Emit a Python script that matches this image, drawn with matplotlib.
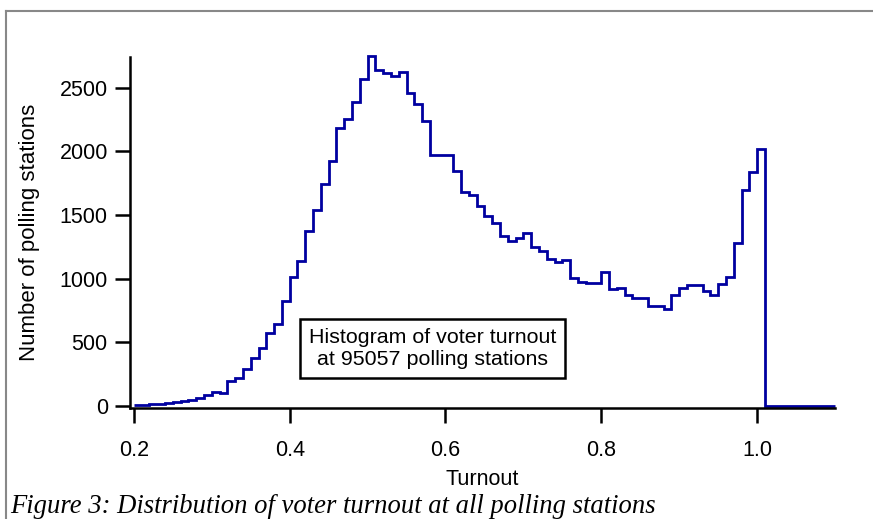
import numpy as np
import matplotlib
matplotlib.use("Agg")
import matplotlib.pyplot as plt
from matplotlib.lines import Line2D

plt.rcParams['font.family'] = ['Liberation Sans', 'DejaVu Sans']

# bin edges of the turnout histogram (width 0.01)
edges = np.round(np.arange(0.20, 1.1001, 0.01), 2)

# number of polling stations per bin
counts = [6, 10, 13, 16, 23, 34, 41, 49, 60, 88,
          112, 104, 198, 224, 294, 380, 453, 576, 648, 825,
          1013, 1135, 1375, 1539, 1740, 1925, 2183, 2250, 2385, 2565,
          2747, 2638, 2612, 2591, 2622, 2458, 2375, 2241, 1968, 1968,
          1970, 1842, 1681, 1656, 1572, 1492, 1435, 1336, 1299, 1318,
          1357, 1252, 1219, 1156, 1128, 1146, 1005, 974, 963, 965,
          1052, 916, 925, 875, 849, 852, 789, 784, 763, 870,
          927, 953, 950, 901, 875, 958, 1010, 1279, 1700, 1838,
          2021, 0, 0, 0, 0, 0, 0, 0, 0, 0]

xticks = [0.2, 0.4, 0.6, 0.8, 1.0]
yticks = [0, 500, 1000, 1500, 2000, 2500]
n_stations = 95057

fig = plt.figure(figsize=(8.73, 5.19), dpi=100)
ax = fig.add_axes([130/873, 1 - 408/519, 705/873, 351/519])

ax.stairs(counts, edges, baseline=None, color='#0000a0', lw=2.0, clip_on=False)

ax.set_xlim(0.195, 1.1)
ax.set_ylim(-15, 2740)
ax.set_xticks(xticks)
ax.set_xticklabels([f"{t:.1f}" for t in xticks])
ax.set_yticks(yticks)

for s in ['top', 'right']:
    ax.spines[s].set_visible(False)
for s in ['left', 'bottom']:
    ax.spines[s].set_linewidth(1.8)
ax.tick_params(direction='out', length=11, width=1.8, labelsize=15.5)
ax.tick_params(axis='x', pad=12)
ax.tick_params(axis='y', pad=5)

ax.set_xlabel("Turnout", fontsize=15.5, labelpad=6)
ax.set_ylabel("Number of polling stations", fontsize=16, labelpad=14)

ax.text(0.583, 452, f"Histogram of voter turnout\nat {n_stations} polling stations",
        ha='center', va='center', fontsize=15.4, linespacing=1.22,
        bbox=dict(boxstyle='square,pad=0.42', fc='white', ec='black', lw=1.8))

# page frame
fig.add_artist(Line2D([5.5/873, 1], [1 - 10.5/519, 1 - 10.5/519],
                      transform=fig.transFigure, color='#888888', lw=1.5))
fig.add_artist(Line2D([5.5/873, 5.5/873], [0, 1 - 10.5/519],
                      transform=fig.transFigure, color='#888888', lw=1.5))

fig.text(10/873, 1 - 513/519,
         "Figure 3: Distribution of voter turnout at all polling stations",
         family=['Liberation Serif', 'DejaVu Serif'], style='italic',
         fontsize=19.2, va='baseline', ha='left')

fig.savefig("out.png", dpi=100)
